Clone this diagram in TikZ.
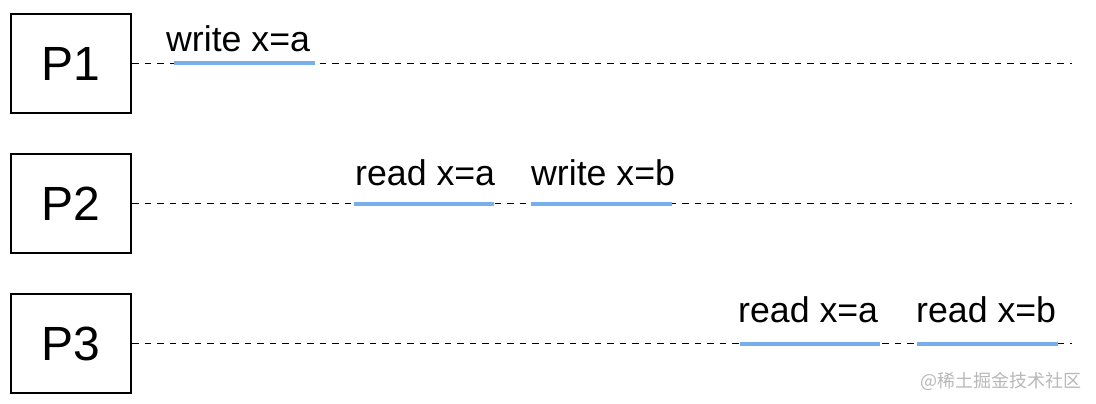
\documentclass[tikz,border=0pt]{standalone}
\usepackage{fontspec}
\setmainfont{Liberation Sans}
\newfontfamily\cjk{Noto Sans CJK SC}
\definecolor{opblue}{HTML}{78AEEA}
\definecolor{wmgray}{HTML}{B8B8B8}
\begin{document}
\begin{tikzpicture}[x=1pt,y=-1pt,
  proc/.style={draw=black,line width=2pt,minimum width=120pt,minimum height=99pt,inner sep=0pt,font=\fontsize{48}{48}\selectfont},
  timeline/.style={line width=1.8pt,dash pattern=on 6.5pt off 6pt},
  op/.style={draw=opblue,line width=4pt},
  lbl/.style={anchor=base west,inner sep=0pt,font=\fontsize{35.7}{36}\selectfont}]
\useasboundingbox (0,0) rectangle (1096,404);
% process boxes
\node[proc] (p1) at (71,63.5) {P1};
\node[proc] (p2) at (71,203.5) {P2};
\node[proc] (p3) at (71,343.5) {P3};
% timeline ends
\coordinate (e1) at (1072,63.5);
\coordinate (e2) at (1072,203.5);
\coordinate (e3) at (1072,343.5);
\draw[timeline] (p1.east) -- (e1);
\draw[timeline] (p2.east) -- (e2);
\draw[timeline] (p3.east) -- (e3);
% operation intervals
\coordinate (a1s) at (174,63.5); \coordinate (a1e) at (315,63.5);
\coordinate (b1s) at (354,203.5); \coordinate (b1e) at (494,203.5);
\coordinate (b2s) at (531,203.5); \coordinate (b2e) at (672,203.5);
\coordinate (c1s) at (740,343.5); \coordinate (c1e) at (880,343.5);
\coordinate (c2s) at (917,343.5); \coordinate (c2e) at (1058,343.5);
\draw[op] (a1s) -- (a1e);
\draw[op] (b1s) -- (b1e);
\draw[op] (b2s) -- (b2e);
\draw[op] (c1s) -- (c1e);
\draw[op] (c2s) -- (c2e);
% labels
\node[lbl] (la1) at (166,52) {write x=a};
\node[lbl] (lb1) at (355,185) {read x=a};
\node[lbl] (lb2) at (531,185) {write x=b};
\node[lbl] (lc1) at (738,322) {read x=a};
\node[lbl] (lc2) at (916,322) {read x=b};
% watermark
\node[anchor=base west,inner sep=0pt,text=wmgray,font=\cjk\fontsize{18}{18}\selectfont] (wm) at (920,387) {@稀土掘金技术社区};
\end{tikzpicture}
\end{document}
